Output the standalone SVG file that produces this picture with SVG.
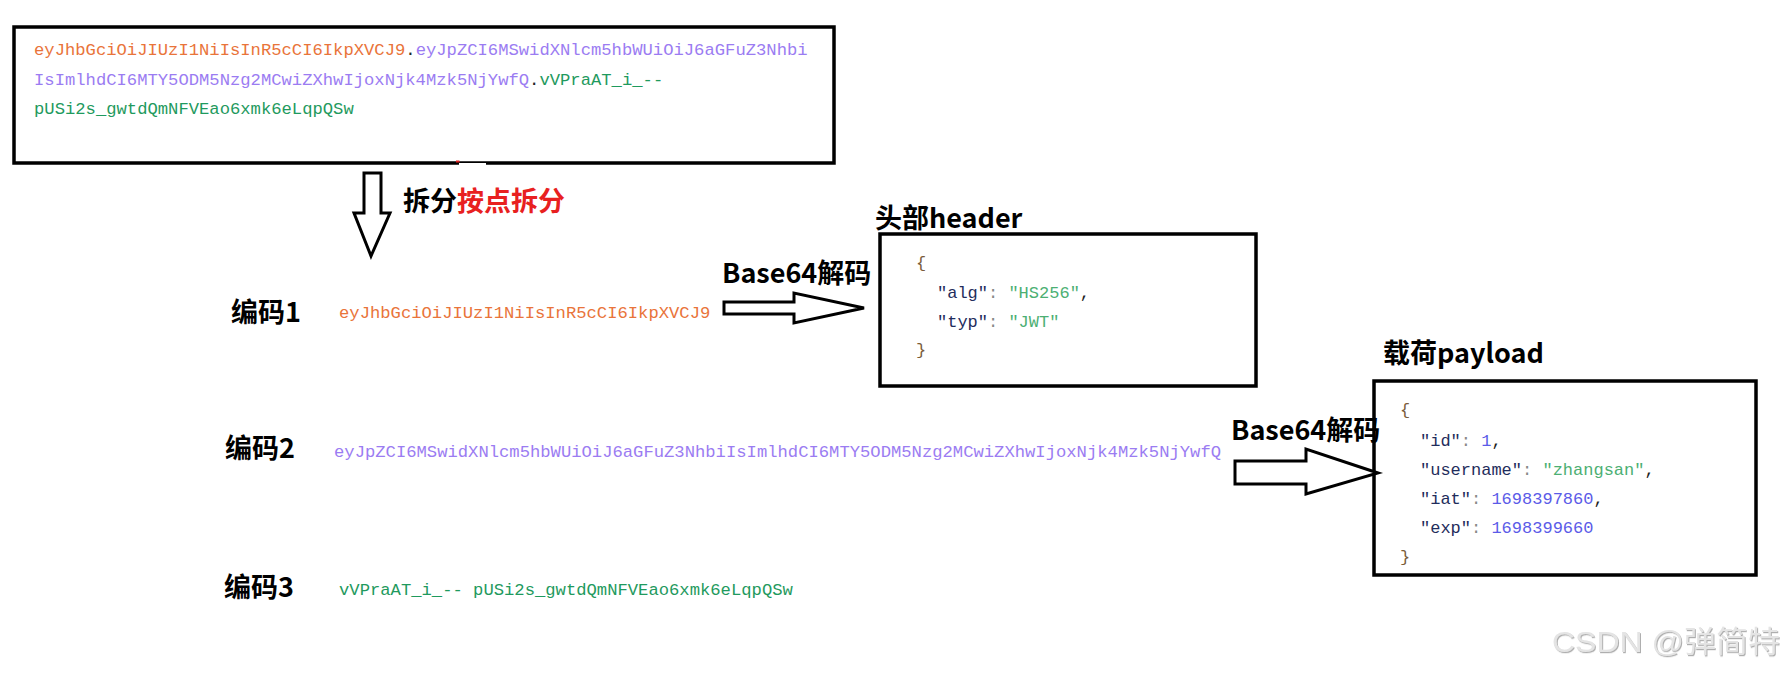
<svg xmlns="http://www.w3.org/2000/svg" width="1786" height="675" viewBox="0 0 1786 675">
<defs>
<style>
.box{fill:#fff;stroke:#000;stroke-width:3.5}
.arrow{fill:#fff;stroke:#000;stroke-width:3;stroke-linejoin:miter}
.code{font-family:"Liberation Mono","DejaVu Sans Mono",monospace;font-size:17.2px}
.json{font-family:"Liberation Mono","DejaVu Sans Mono",monospace;font-size:17px}
.lbl{font-family:"Noto Sans CJK SC","Noto Sans",sans-serif;font-weight:bold;font-size:27px;fill:#000}
.or{fill:#e9743a}.pu{fill:#9b7cf2}.gr{fill:#1f9a5e}.dk{fill:#222}
.key{fill:#1f2d5c}.pn{fill:#888}.str{fill:#4caf73}.num{fill:#5b5be8}.br{fill:#7a5c3a}
</style>
<filter id="emb" x="-5%" y="-20%" width="110%" height="140%">
<feDropShadow dx="1" dy="1.2" stdDeviation="0.6" flood-color="#9a9a9a" flood-opacity="0.8"/>
</filter>
</defs>
<rect width="1786" height="675" fill="#fff"/>

<g id="jwt-token">
<rect class="box" x="14" y="27" width="820" height="136" stroke-width="3.2"/>
<rect x="459" y="163" width="27" height="3" fill="#fff"/>
<rect x="456" y="160.5" width="3.5" height="2" fill="#e02020"/>
<text class="code" x="34" y="55"><tspan class="or">eyJhbGciOiJIUzI1NiIsInR5cCI6IkpXVCJ9</tspan><tspan class="dk">.</tspan><tspan class="pu">eyJpZCI6MSwidXNlcm5hbWUiOiJ6aGFuZ3Nhbi</tspan></text>
<text class="code" x="34" y="85"><tspan class="pu">IsImlhdCI6MTY5ODM5Nzg2MCwiZXhwIjoxNjk4Mzk5NjYwfQ</tspan><tspan class="dk">.</tspan><tspan class="gr">vVPraAT_i_--</tspan></text>
<text class="code gr" x="34" y="114">pUSi2s_gwtdQmNFVEao6xmk6eLqpQSw</text>
</g>

<g id="split-label">
<text class="lbl" x="403" y="211">拆分<tspan fill="#e82020">按点拆分</tspan></text>
</g>

<g id="part1">
<text class="lbl" x="231" y="322" font-size="26">编码1</text>
<text class="code or" x="339" y="318">eyJhbGciOiJIUzI1NiIsInR5cCI6IkpXVCJ9</text>
</g>

<g id="part2">
<text class="lbl" x="225" y="458" font-size="26">编码2</text>
<text class="code pu" x="334" y="457">eyJpZCI6MSwidXNlcm5hbWUiOiJ6aGFuZ3NhbiIsImlhdCI6MTY5ODM5Nzg2MCwiZXhwIjoxNjk4Mzk5NjYwfQ</text>
</g>

<g id="part3">
<text class="lbl" x="224" y="597" font-size="26">编码3</text>
<text class="code gr" x="339" y="595">vVPraAT_i_-- pUSi2s_gwtdQmNFVEao6xmk6eLqpQSw</text>
</g>

<g id="header">
<text class="lbl" x="875" y="228">头部header</text>
<rect class="box" x="880" y="234" width="376" height="152"/>
<text class="json br" x="916" y="268">{</text>
<text class="json" x="937" y="298"><tspan class="key">"alg"</tspan><tspan class="pn">: </tspan><tspan class="str">"HS256"</tspan><tspan class="dk">,</tspan></text>
<text class="json" x="937" y="327"><tspan class="key">"typ"</tspan><tspan class="pn">: </tspan><tspan class="str">"JWT"</tspan></text>
<text class="json br" x="916" y="355">}</text>
</g>

<g id="payload">
<text class="lbl" x="1383" y="363">载荷payload</text>
<rect class="box" x="1374" y="381" width="382" height="194"/>
<text class="json br" x="1400" y="415">{</text>
<text class="json" x="1420" y="446"><tspan class="key">"id"</tspan><tspan class="pn">: </tspan><tspan class="num">1</tspan><tspan class="dk">,</tspan></text>
<text class="json" x="1420" y="475"><tspan class="key">"username"</tspan><tspan class="pn">: </tspan><tspan class="str">"zhangsan"</tspan><tspan class="dk">,</tspan></text>
<text class="json" x="1420" y="504"><tspan class="key">"iat"</tspan><tspan class="pn">: </tspan><tspan class="num">1698397860</tspan><tspan class="dk">,</tspan></text>
<text class="json" x="1420" y="533"><tspan class="key">"exp"</tspan><tspan class="pn">: </tspan><tspan class="num">1698399660</tspan></text>
<text class="json br" x="1400" y="562">}</text>
</g>

<g id="connectors">
<polygon class="arrow" points="364,173 381,173 381,213 390,213 371,256 354,213 364,213"/>
<g id="decode1">
<polygon class="arrow" points="724,302 794,302 794,293 864,308 794,323 794,314 724,314"/>
<text class="lbl" x="722" y="283">Base64解码</text>
</g>
<g id="decode2">
<polygon class="arrow" points="1235,461 1306,461 1306,449 1378,473 1306,494 1306,484 1235,484"/>
<text class="lbl" x="1231" y="440" font-size="26.5">Base64解码</text>
</g>
</g>

<g id="watermark" filter="url(#emb)">
<text x="1552" y="652" font-family="'Liberation Sans','Noto Sans CJK SC',sans-serif" font-size="30" fill="#e4e4e4" textLength="228" lengthAdjust="spacingAndGlyphs">CSDN @弹简特</text>
</g>
</svg>
